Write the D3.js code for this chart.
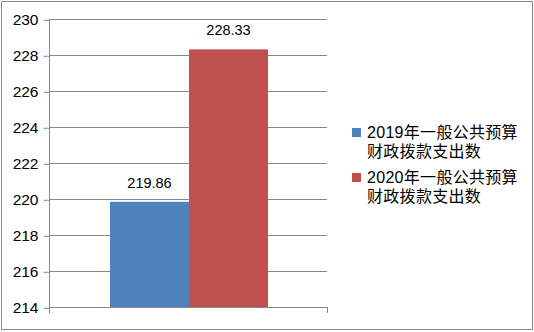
<!DOCTYPE html>
<html>
<head>
<meta charset="utf-8">
<script src="https://cdn.jsdelivr.net/npm/d3@7/dist/d3.min.js"></script>
<style>
  html, body { margin: 0; padding: 0; background: #fff; }
  svg { display: block; }
  text { font-family: "Liberation Sans", "Noto Sans CJK SC", sans-serif; fill: #000; }
</style>
</head>
<body>
<svg id="chart" width="534" height="332"></svg>
<script>
// Budget appropriation figures by year
const seriesNames = ["2019年一般公共预算财政拨款支出数", "2020年一般公共预算财政拨款支出数"];
const seriesValues = [219.86, 228.33];
const seriesColors = ["#4F81BD", "#C0504D"];
const legendLines = [
  ["2019年一般公共预算", "财政拨款支出数"],
  ["2020年一般公共预算", "财政拨款支出数"]
];
const yTicks = [214, 216, 218, 220, 222, 224, 226, 228, 230];

const svg = d3.select("#chart");
const W = 534, H = 332;

// outer frame
svg.append("rect")
  .attr("x", 1.5).attr("y", 1.5)
  .attr("width", W - 3).attr("height", H - 4)
  .attr("fill", "#fff").attr("stroke", "#8a8a8a").attr("stroke-width", 1);

const plot = { left: 49, right: 327, top: 19.3, bottom: 307.3 };

const y = d3.scaleLinear().domain([214, 230]).range([plot.bottom, plot.top]);
const x = d3.scaleBand().domain(seriesNames)
  .range([plot.left + 61, plot.right - 59]).padding(0);

const g = svg.append("g");

// horizontal gridlines
g.selectAll("line.grid").data(yTicks.filter(t => t !== 214)).enter()
  .append("line").attr("class", "grid")
  .attr("x1", plot.left).attr("x2", plot.right)
  .attr("y1", d => Math.round(y(d)) + 0.5).attr("y2", d => Math.round(y(d)) + 0.5)
  .attr("stroke", "#868686").attr("stroke-width", 1);

// bars
g.selectAll("rect.bar").data(seriesValues).enter()
  .append("rect").attr("class", "bar")
  .attr("x", (d, i) => x(seriesNames[i]))
  .attr("width", x.bandwidth())
  .attr("y", d => y(d))
  .attr("height", d => y(214) - y(d))
  .attr("fill", (d, i) => seriesColors[i]);

// value labels
g.selectAll("text.val").data(seriesValues).enter()
  .append("text").attr("class", "val")
  .attr("x", (d, i) => x(seriesNames[i]) + x.bandwidth() / 2)
  .attr("y", d => y(d) - 14)
  .attr("text-anchor", "middle")
  .attr("font-size", "14.5px")
  .text(d => d.toFixed(2));

// y axis
const yAxis = d3.axisLeft(y).tickValues(yTicks).tickSize(6).tickPadding(5)
  .tickFormat(d3.format("d"));
const ya = svg.append("g")
  .attr("transform", `translate(${plot.left + 0.5},0.5)`)
  .call(yAxis);
ya.select(".domain").remove();
ya.append("line").attr("x1", 0).attr("x2", 0)
  .attr("y1", plot.top - 0.5).attr("y2", plot.bottom + 5.5)
  .attr("stroke", "#868686");
ya.selectAll(".tick line").attr("stroke", "#868686");
ya.selectAll(".tick text").attr("font-size", "15.5px")
  .attr("font-family", "Liberation Sans, sans-serif").attr("fill", "#000");

// x axis baseline with end tick
const xa = svg.append("g");
xa.append("line")
  .attr("x1", plot.left).attr("x2", plot.right + 0.5)
  .attr("y1", Math.round(y(214)) + 0.5).attr("y2", Math.round(y(214)) + 0.5)
  .attr("stroke", "#868686");
xa.append("line")
  .attr("x1", plot.right + 0.5).attr("x2", plot.right + 0.5)
  .attr("y1", Math.round(y(214))).attr("y2", Math.round(y(214)) + 6)
  .attr("stroke", "#868686");

// legend
const legend = svg.append("g").attr("transform", "translate(352,0)");
const legendY = [128, 173];
legendLines.forEach((lines, i) => {
  const lg = legend.append("g").attr("transform", `translate(0,${legendY[i]})`);
  lg.append("rect").attr("x", 0).attr("y", 0).attr("width", 9).attr("height", 9)
    .attr("fill", seriesColors[i]);
  lines.forEach((ln, j) => {
    lg.append("text")
      .attr("x", 15).attr("y", 10 + j * 19)
      .attr("font-size", "16px")
      .attr("letter-spacing", "0.3px")
      .text(ln);
  });
});
</script>
</body>
</html>
